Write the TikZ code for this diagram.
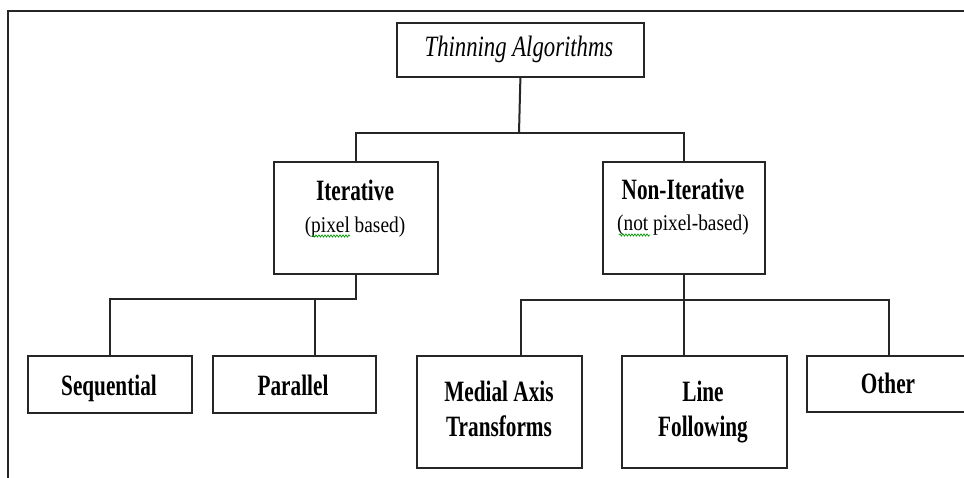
\documentclass[tikz,border=0pt]{standalone}
\usepackage{fontspec}
\setmainfont{Liberation Serif}
\newfontfamily\labfont[FakeStretch=0.72]{Liberation Serif}
\newfontfamily\subfont[FakeStretch=0.86]{Liberation Serif}
\newfontfamily\titfont[FakeStretch=0.77]{Liberation Serif}
\usetikzlibrary{decorations.pathmorphing}
\begin{document}
\begin{tikzpicture}[x=1pt,y=-1pt,
  box/.style={draw=black!85, line width=1.8pt, rectangle, inner sep=0pt, anchor=north west},
  lab/.style={font=\labfont\bfseries\fontsize{29.5}{36}\selectfont, anchor=base, inner sep=0pt},
  sub/.style={font=\subfont\fontsize{22.5}{26}\selectfont, anchor=base, inner sep=0pt},
  tit/.style={font=\titfont\itshape\fontsize{29.5}{32}\selectfont, anchor=base, inner sep=0pt},
  conn/.style={draw=black!85, line width=2pt},
  frame/.style={draw=black!85, line width=2pt},
  spell/.style={draw=green!60!black, line width=0.7pt, decorate, decoration={snake, amplitude=1.1pt, segment length=3pt}}]
\path[use as bounding box] (0,0) rectangle (964,477);
\clip (0,0) rectangle (964,477);
\fill[white] (0,0) rectangle (964,477);
% outer frame
\draw[frame] (8,500) -- (8,11) -- (1000,11);
% boxes
\node[box, minimum width=247, minimum height=54] (top) at (396,22) {};
\node[box, minimum width=164, minimum height=112] (iter) at (273,161) {};
\node[box, minimum width=162, minimum height=112] (noniter) at (602,161) {};
\node[box, minimum width=164, minimum height=57] (seq) at (27,355) {};
\node[box, minimum width=163, minimum height=57] (par) at (212,355) {};
\node[box, minimum width=165, minimum height=112] (med) at (416,355) {};
\node[box, minimum width=165, minimum height=112] (lf) at (621,355) {};
\node[box, minimum width=164, minimum height=56] (oth) at (806,355) {};
% texts
\node[tit] (ttop) at (519,56) {Thinning Algorithms};
\node[lab] (titer) at (355,200) {Iterative};
\node[sub] (siter) at (355,232) {(pixel based)};
\node[lab] (tnon) at (683,199) {Non-Iterative};
\node[sub] (snon) at (683,230) {(not pixel-based)};
\node[lab] (tseq) at (109,395) {Sequential};
\node[lab] (tpar) at (293,395) {Parallel};
\node[lab] (tmed1) at (499,401) {Medial Axis};
\node[lab] (tmed2) at (499,436) {Transforms};
\node[lab] (tlf1) at (703,401) {Line};
\node[lab] (tlf2) at (703,436) {Following};
\node[lab] (toth) at (888,393) {Other};
% spell-check squiggles
\draw[spell] (312,236) -- (350,236);
\draw[spell] (619,235) -- (650,235);
% connectors
\coordinate (j1) at (519,133);
\draw[conn] (top.south) -- (j1);
\draw[conn] (iter.north) -- (iter.north |- j1) -- (noniter.north |- j1) -- (noniter.north);
\coordinate (j2) at (355,299);
\draw[conn] (iter.south) -- (iter.south |- j2) -- (seq.north |- j2) -- (seq.north);
\draw[conn] ([xshift=20.5pt]par.north) -- ([xshift=20.5pt]par.north |- j2);
\coordinate (j3) at (683,300);
\draw[conn] (noniter.south) -- (noniter.south |- j3);
\draw[conn] ([xshift=21.5pt]med.north) -- ([xshift=21.5pt]med.north |- j3) -- (oth.north |- j3) -- (oth.north);
\draw[conn] ([xshift=-20pt]lf.north) -- ([xshift=-20pt]lf.north |- j3);
\end{tikzpicture}
\end{document}
